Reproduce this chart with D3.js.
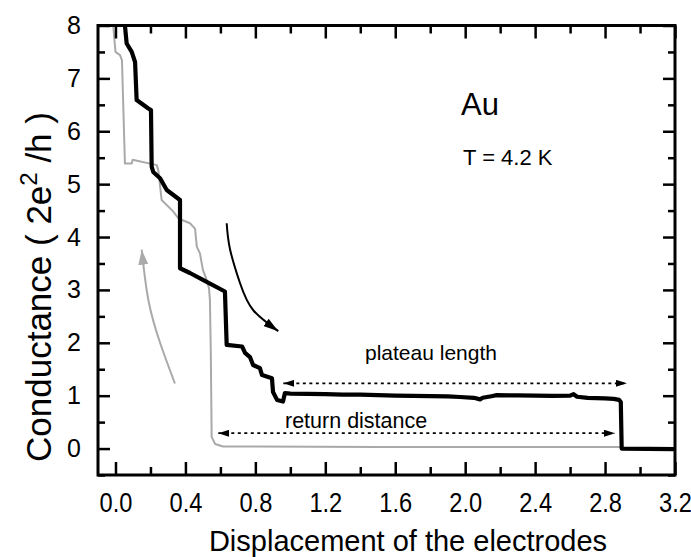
<!DOCTYPE html>
<html>
<head>
<meta charset="utf-8">
<script src="https://cdn.jsdelivr.net/npm/d3@7/dist/d3.min.js"></script>
<style>
  body { margin: 0; background: #fff; }
  text { font-family: "Liberation Sans", Arial, Helvetica, sans-serif; fill: #000; }
</style>
</head>
<body>
<svg id="chart" width="691" height="557"></svg>
<script>
// Opening trace (black): conductance while the electrodes are pulled apart
const openX = [0.054, 0.064, 0.093, 0.112, 0.121, 0.188, 0.203, 0.207, 0.216, 0.255, 0.293, 0.369,
  0.369, 0.426, 0.50, 0.626, 0.636, 0.724, 0.741, 0.769, 0.787, 0.826, 0.838, 0.895, 0.901, 0.924,
  0.958, 0.969, 1.0, 1.1, 1.2, 1.3, 1.4, 1.5, 1.6, 1.7, 1.8, 1.9, 1.97, 2.05, 2.085, 2.10, 2.15,
  2.18, 2.3, 2.4, 2.5, 2.6, 2.62, 2.64, 2.7, 2.8, 2.85, 2.88, 2.89, 2.895, 3.2];
const openY = [8.0, 7.66, 7.50, 7.31, 6.59, 6.43, 6.40, 5.33, 5.23, 5.11, 4.89, 4.70,
  3.41, 3.32, 3.19, 2.97, 1.96, 1.93, 1.81, 1.73, 1.58, 1.52, 1.39, 1.33, 1.07, 0.92,
  0.89, 1.05, 1.04, 1.035, 1.03, 1.02, 1.02, 1.01, 1.0, 0.995, 0.99, 0.985, 0.975, 0.96, 0.93, 0.96, 0.99,
  1.01, 1.005, 1.0, 0.995, 1.0, 1.03, 0.98, 0.96, 0.95, 0.94, 0.92, 0.88, 0.0, -0.01];

// Return trace (grey): conductance while the electrodes are brought back
const returnX = [-0.013, 0.0, 0.026, 0.037, 0.054, 0.093, 0.098, 0.236, 0.245, 0.264, 0.331, 0.36,
  0.426, 0.455, 0.465, 0.483, 0.50, 0.518, 0.535, 0.54, 0.545, 0.55, 0.57, 0.615, 1.5, 2.89];
const returnY = [8.0, 7.50, 7.44, 7.34, 5.39, 5.39, 5.46, 5.36, 5.26, 4.70, 4.48, 4.35,
  4.26, 4.16, 3.82, 3.69, 3.38, 3.22, 3.03, 2.81, 1.87, 0.22, 0.087, 0.04, 0.03, 0.03];

// Direction arrows
const downArrowX = [0.636, 0.655, 0.712, 0.787, 0.931];
const downArrowY = [4.26, 3.77, 3.13, 2.62, 2.22];
const upArrowX = [0.34, 0.255, 0.188, 0.15];
const upArrowY = [1.23, 2.0, 2.81, 3.76];

// Double-headed dotted spans
const plateauSpanX = [0.96, 2.925], plateauSpanY = 1.234;
const returnSpanX = [0.588, 2.857], returnSpanY = 0.29;

// Axis ticks
const xMajor = [0, 0.4, 0.8, 1.2, 1.6, 2.0, 2.4, 2.8, 3.2];
const xLabels = ["0.0", "0.4", "0.8", "1.2", "1.6", "2.0", "2.4", "2.8", "3.2"];
const xMinor = [0.2, 0.6, 1.0, 1.4, 1.8, 2.2, 2.6, 3.0];
const yMajor = [0, 1, 2, 3, 4, 5, 6, 7, 8];
const yMinor = [-0.5, 0.5, 1.5, 2.5, 3.5, 4.5, 5.5, 6.5, 7.5];

const svg = d3.select("#chart");
const L = 98, R = 675, T = 25.5, B = 475;
const x = d3.scaleLinear().domain([-0.1, 3.2]).range([L, R]);
const y = d3.scaleLinear().domain([-0.5, 8]).range([B, T]);

const defs = svg.append("defs");
function head(id, color, len, half) {
  defs.append("marker").attr("id", id)
    .attr("viewBox", `0 ${-half} ${len} ${2 * half}`)
    .attr("refX", len).attr("refY", 0)
    .attr("markerWidth", len).attr("markerHeight", 2 * half)
    .attr("markerUnits", "userSpaceOnUse")
    .attr("orient", "auto-start-reverse")
    .append("path").attr("d", `M0,${-half}L${len},0L0,${half}Z`).attr("fill", color);
}
head("hBlack", "#000", 15, 4.5);
head("hGrey", "#aaa", 15, 5);
head("hDot", "#000", 11, 3.5);

defs.append("clipPath").attr("id", "plotClip")
  .append("rect").attr("x", L).attr("y", T).attr("width", R - L).attr("height", B - T);

const line = d3.line().x(d => x(d[0])).y(d => y(d[1]));
const curve = d3.line().x(d => x(d[0])).y(d => y(d[1])).curve(d3.curveNatural);

const plot = svg.append("g").attr("clip-path", "url(#plotClip)");

// Grey return trace
plot.append("path")
  .datum(returnX.map((v, i) => [v, returnY[i]]))
  .attr("d", line).attr("fill", "none")
  .attr("stroke", "#a9a9a9").attr("stroke-width", 2).attr("stroke-linejoin", "round");

// Black opening trace
plot.append("path")
  .datum(openX.map((v, i) => [v, openY[i]]))
  .attr("d", line).attr("fill", "none")
  .attr("stroke", "#000").attr("stroke-width", 4.2).attr("stroke-linejoin", "round");

// Direction arrows
svg.append("path")
  .datum(downArrowX.map((v, i) => [v, downArrowY[i]]))
  .attr("d", curve).attr("fill", "none")
  .attr("stroke", "#000").attr("stroke-width", 2).attr("marker-end", "url(#hBlack)");
svg.append("path")
  .datum(upArrowX.map((v, i) => [v, upArrowY[i]]))
  .attr("d", curve).attr("fill", "none")
  .attr("stroke", "#aaa").attr("stroke-width", 2).attr("marker-end", "url(#hGrey)");

// Dotted spans
function span(xs, yv) {
  svg.append("line")
    .attr("x1", x(xs[0])).attr("x2", x(xs[1])).attr("y1", y(yv)).attr("y2", y(yv))
    .attr("stroke", "#000").attr("stroke-width", 1.8).attr("stroke-dasharray", "3,3.5")
    .attr("marker-start", "url(#hDot)").attr("marker-end", "url(#hDot)");
}
span(plateauSpanX, plateauSpanY);
span(returnSpanX, returnSpanY);

// Annotations
svg.append("text").attr("x", 365).attr("y", 360).attr("font-size", 21).text("plateau length");
svg.append("text").attr("x", 285).attr("y", 428).attr("font-size", 21.5).text("return distance");
svg.append("text").attr("x", 461).attr("y", 115).attr("font-size", 31).text("Au");
svg.append("text").attr("x", 463).attr("y", 165).attr("font-size", 22).text("T = 4.2 K");

// Axes: ticks point into the plot on all four sides
function axisGroup(axis, tx, ty) {
  const g = svg.append("g").attr("transform", `translate(${tx},${ty})`).call(axis);
  g.select(".domain").remove();
  g.selectAll("line").attr("stroke", "#000").attr("stroke-width", 2.5);
  return g;
}
const gx = axisGroup(d3.axisBottom(x).tickValues(xMajor).tickSize(-13).tickPadding(17)
  .tickFormat((d, i) => xLabels[i]), 0, B);
gx.selectAll("text").attr("font-size", 27.5).attr("font-family", null)
  .attr("transform", "scale(0.86,1)");
axisGroup(d3.axisBottom(x).tickValues(xMinor).tickSize(-8).tickFormat(""), 0, B);
axisGroup(d3.axisTop(x).tickValues(xMajor).tickSize(-13).tickFormat(""), 0, T);
axisGroup(d3.axisTop(x).tickValues(xMinor).tickSize(-8).tickFormat(""), 0, T);

const gy = axisGroup(d3.axisLeft(y).tickValues(yMajor).tickSize(-12).tickPadding(17)
  .tickFormat(d3.format("d")), L, 0);
gy.selectAll("text").attr("font-size", 25).attr("font-family", null);
axisGroup(d3.axisLeft(y).tickValues(yMinor).tickSize(-7).tickFormat(""), L, 0);
axisGroup(d3.axisRight(y).tickValues(yMajor).tickSize(-12).tickFormat(""), R, 0);
axisGroup(d3.axisRight(y).tickValues(yMinor).tickSize(-7).tickFormat(""), R, 0);

// Frame
svg.append("rect").attr("x", L).attr("y", T).attr("width", R - L).attr("height", B - T)
  .attr("fill", "none").attr("stroke", "#000").attr("stroke-width", 3);

// Axis titles
svg.append("text").attr("x", 408).attr("y", 551).attr("text-anchor", "middle")
  .attr("font-size", 29).text("Displacement of the electrodes");

const yt = svg.append("text").attr("transform", "translate(51,287) rotate(-90)")
  .attr("text-anchor", "middle").attr("font-size", 35);
yt.append("tspan").text("Conductance  ( 2e");
yt.append("tspan").attr("font-size", 24).attr("dy", -14).text("2");
yt.append("tspan").attr("dy", 14).text(" /h )");
</script>
</body>
</html>
